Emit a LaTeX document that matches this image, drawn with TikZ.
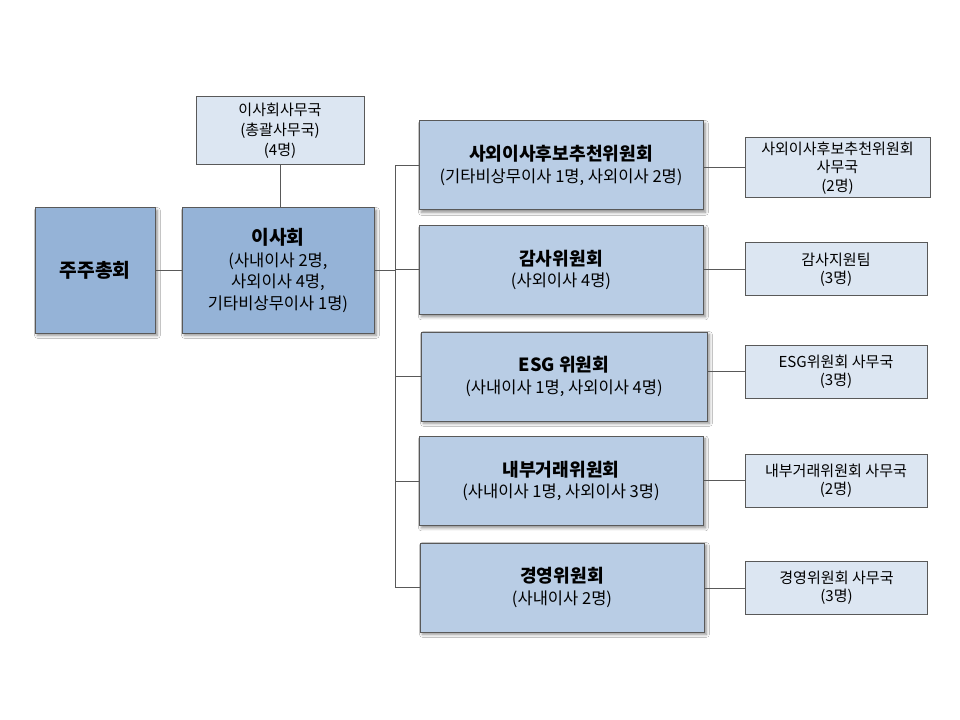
\documentclass[tikz,border=0pt]{standalone}
\usepackage{fontspec}
\setmainfont{Noto Sans CJK KR}
\usetikzlibrary{shadows.blur}
\definecolor{linegray}{HTML}{595959}
\definecolor{darkfill}{HTML}{95B3D7}
\definecolor{midfill}{HTML}{B9CDE5}
\definecolor{lightfill}{HTML}{DCE6F2}
\tikzset{
  box/.style={draw=linegray, line width=0.75pt, inner sep=2pt, align=center, text=black},
  shadowed/.style={blur shadow={shadow xshift=1.8pt, shadow yshift=-1.8pt, shadow blur steps=6, shadow blur extra rounding=0pt, shadow opacity=45}},
  topbox/.style={box, shadowed, fill=darkfill, font=\fontsize{12.4}{16.3}\selectfont},
  combox/.style={box, shadowed, fill=midfill, font=\fontsize{12.4}{16.2}\selectfont, minimum width=213pt, minimum height=66.75pt},
  subbox/.style={box, fill=lightfill, font=\fontsize{11.3}{13.75}\selectfont, minimum width=136.5pt, minimum height=39.75pt},
  conn/.style={draw=linegray, line width=0.75pt},
}
\newcommand{\ttlA}[1]{{\fontsize{14.4}{16.3}\selectfont\bfseries #1}}
\newcommand{\ttlB}[1]{{\fontsize{13.6}{16.2}\selectfont\bfseries #1}}
\begin{document}
\begin{tikzpicture}[x=0.75pt, y=-0.75pt]
  \fill[white] (0,0) rectangle (960,720);
  \useasboundingbox (0,0) rectangle (960,720);

  % top level
  \node[topbox, minimum width=90pt, minimum height=93.75pt] (jj) at (95,270.5) {\ttlA{주주총회}};
  \node[topbox, minimum width=144pt, minimum height=93.75pt] (bd) at (278,270.5)
    {\ttlA{이사회}\\(사내이사 2명,\\사외이사 4명,\\기타비상무이사 1명)};
  \node[box, fill=lightfill, font=\fontsize{11.3}{15}\selectfont, minimum width=126pt, minimum height=51pt] (sec) at (280,131)
    {이사회사무국\\(총괄사무국)\\(4명)};

  % committees
  \node[combox] (c1) at (561,165.5) {\ttlB{사외이사후보추천위원회}\\(기타비상무이사 1명, 사외이사 2명)};
  \node[combox] (c2) at (561,270) {\ttlB{감사위원회}\\(사외이사 4명)};
  \node[combox, minimum width=214.5pt] (c3) at (564,376.5) {\ttlB{ESG 위원회}\\(사내이사 1명, 사외이사 4명)};
  \node[combox] (c4) at (561,481) {\ttlB{내부거래위원회}\\(사내이사 1명, 사외이사 3명)};
  \node[combox] (c5) at (562,587.5) {\ttlB{경영위원회}\\(사내이사 2명)};

  % sub units
  \node[subbox, minimum width=138.75pt, minimum height=45pt] (s1) at (837.5,168) {사외이사후보추천위원회\\사무국\\(2명)};
  \node[subbox] (s2) at (836,269.5) {감사지원팀\\(3명)};
  \node[subbox] (s3) at (836,371.5) {ESG위원회 사무국\\(3명)};
  \node[subbox] (s4) at (836,480.5) {내부거래위원회 사무국\\(2명)};
  \node[subbox] (s5) at (836.5,588) {경영위원회 사무국\\(3명)};

  % connectors
  \coordinate (tx) at (395,0);
  \draw[conn] (jj.east) -- (bd.west);
  \draw[conn] (sec.south) -- (sec.south |- bd.north);
  \draw[conn] (bd.east) -- (bd.east -| tx);
  \draw[conn] (c1.west) -- (c1.west -| tx) -- (c5.west -| tx) -- (c5.west);
  \draw[conn] (c2.west) -- (c2.west -| tx);
  \draw[conn] (c3.west) -- (c3.west -| tx);
  \draw[conn] (c4.west) -- (c4.west -| tx);
  \draw[conn] (s1.west -| c1.east) -- (s1.west);
  \draw[conn] (s2.west -| c2.east) -- (s2.west);
  \draw[conn] (s3.west -| c3.east) -- (s3.west);
  \draw[conn] (s4.west -| c4.east) -- (s4.west);
  \draw[conn] (s5.west -| c5.east) -- (s5.west);
\end{tikzpicture}
\end{document}
